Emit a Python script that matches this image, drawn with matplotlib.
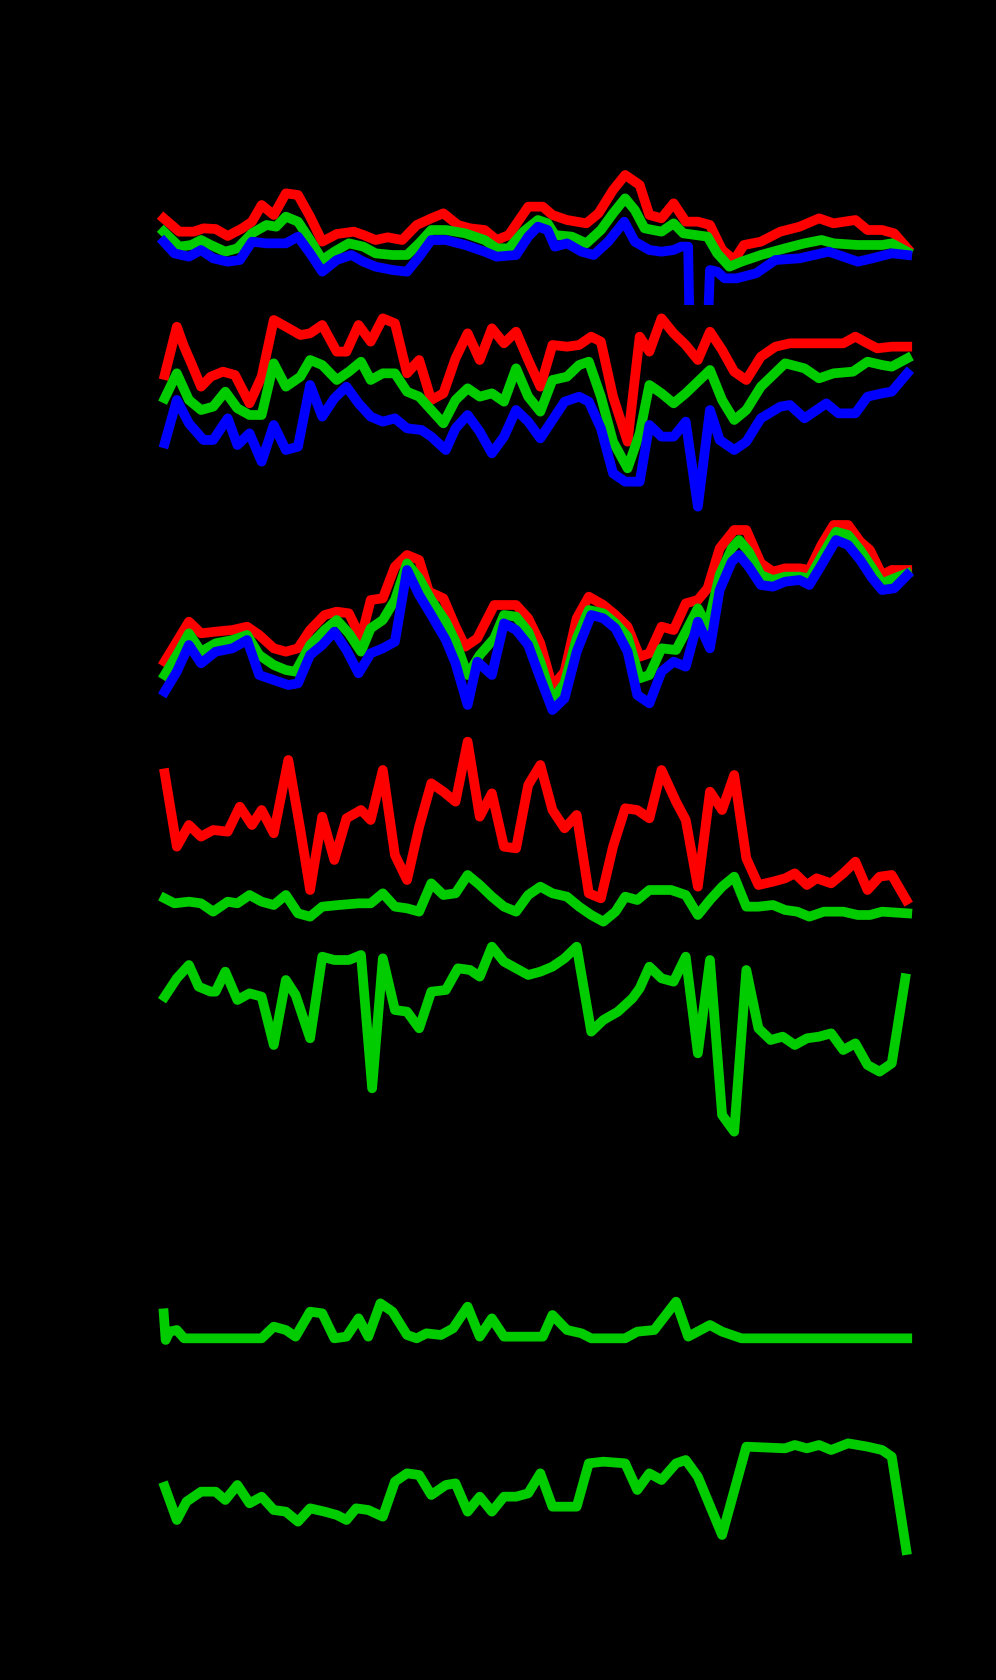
import matplotlib
matplotlib.use("Agg")
import matplotlib.pyplot as plt

# values, one small list per series
# x: sample position (0..1568), y: level (0 = top of its strip)

# strip 1
s1_red_x = [18, 50, 80, 100, 125, 150, 180, 200, 220, 245, 270, 295, 320, 345, 375, 410, 430, 455, 480, 510, 540, 570, 595, 625, 650, 680, 705, 730, 770, 800, 820, 850, 890, 915, 945, 970, 1000, 1020, 1045, 1070, 1095, 1120, 1145, 1170, 1195, 1215, 1250, 1290, 1330, 1370, 1400, 1445, 1470, 1500, 1525, 1552]
s1_red_y = [175, 215, 215, 205, 207, 228, 205, 185, 135, 165, 100, 105, 170, 245, 222, 215, 225, 240, 232, 240, 195, 175, 160, 195, 205, 210, 240, 225, 140, 140, 165, 180, 190, 160, 90, 45, 75, 165, 175, 130, 185, 185, 195, 270, 300, 255, 245, 215, 200, 175, 190, 180, 210, 210, 220, 265]
s1_green_x = [18, 50, 75, 95, 115, 145, 170, 200, 230, 250, 270, 295, 320, 345, 370, 400, 430, 455, 490, 520, 545, 570, 600, 640, 680, 705, 730, 760, 790, 810, 825, 860, 890, 920, 945, 970, 990, 1010, 1045, 1070, 1090, 1140, 1160, 1185, 1210, 1250, 1300, 1340, 1375, 1400, 1450, 1500, 1520, 1552]
s1_green_y = [215, 260, 255, 240, 255, 275, 265, 220, 195, 200, 170, 185, 240, 300, 275, 250, 260, 280, 285, 285, 250, 210, 210, 220, 240, 265, 265, 215, 180, 190, 225, 230, 250, 210, 160, 115, 150, 205, 215, 190, 220, 230, 280, 320, 305, 285, 265, 250, 240, 250, 255, 255, 250, 275]
s1_blue_x = [18, 40, 70, 95, 120, 150, 175, 200, 230, 270, 295, 320, 345, 375, 405, 430, 455, 490, 520, 545, 570, 600, 640, 680, 705, 745, 770, 790, 810, 825, 850, 880, 905, 935, 968, 990, 1020, 1045, 1070, 1085, 1100, 1103, 1140, 1145, 1160, 1175, 1200, 1240, 1280, 1330, 1360, 1390, 1420, 1450, 1480, 1520, 1552]
s1_blue_y = [245, 280, 290, 270, 295, 305, 300, 245, 250, 250, 230, 280, 335, 300, 285, 305, 320, 330, 335, 290, 240, 240, 255, 275, 290, 285, 230, 200, 210, 260, 250, 275, 285, 245, 185, 245, 270, 275, 270, 260, 260, 520, 520, 330, 335, 355, 355, 340, 300, 295, 285, 275, 290, 305, 295, 280, 285]

# strip 2
s2_red_x = [20, 45, 60, 75, 95, 115, 140, 165, 195, 220, 245, 270, 300, 320, 345, 375, 395, 420, 445, 470, 495, 520, 545, 570, 595, 620, 645, 670, 695, 720, 745, 770, 795, 820, 850, 875, 900, 920, 945, 975, 1000, 1020, 1045, 1070, 1095, 1120, 1145, 1170, 1195, 1220, 1250, 1280, 1310, 1340, 1380, 1420, 1445, 1470, 1490, 1520, 1552]
s2_red_y = [195, 50, 110, 160, 230, 200, 185, 195, 280, 200, 30, 50, 75, 70, 45, 125, 125, 45, 95, 25, 40, 190, 150, 270, 250, 145, 70, 150, 55, 100, 65, 150, 230, 105, 110, 105, 80, 95, 260, 395, 80, 125, 25, 70, 105, 150, 65, 120, 185, 210, 140, 110, 100, 100, 100, 100, 80, 100, 115, 110, 110]
s2_green_x = [20, 45, 70, 95, 120, 145, 170, 195, 220, 245, 270, 300, 320, 345, 375, 400, 425, 445, 470, 495, 520, 545, 570, 595, 620, 645, 670, 695, 720, 745, 770, 795, 820, 850, 875, 895, 920, 945, 975, 1000, 1020, 1045, 1070, 1095, 1145, 1170, 1195, 1220, 1250, 1300, 1340, 1370, 1400, 1440, 1470, 1500, 1520, 1552]
s2_green_y = [265, 190, 270, 300, 290, 245, 295, 315, 315, 160, 230, 200, 150, 165, 210, 185, 155, 210, 190, 190, 245, 260, 300, 340, 270, 235, 260, 250, 275, 175, 260, 305, 210, 200, 165, 155, 260, 395, 475, 370, 225, 250, 280, 250, 180, 270, 330, 300, 230, 160, 175, 205, 190, 185, 155, 165, 170, 145]
s2_blue_x = [20, 45, 70, 100, 120, 150, 170, 195, 220, 245, 270, 295, 320, 345, 370, 395, 420, 445, 470, 495, 520, 550, 570, 600, 620, 645, 670, 695, 720, 745, 770, 795, 820, 845, 875, 895, 920, 945, 970, 1000, 1020, 1045, 1070, 1095, 1120, 1145, 1165, 1195, 1220, 1250, 1290, 1310, 1340, 1385, 1410, 1445, 1470, 1500, 1520, 1552]
s2_blue_y = [400, 270, 340, 390, 390, 325, 405, 370, 455, 345, 420, 410, 225, 320, 265, 230, 280, 320, 335, 325, 355, 360, 380, 420, 355, 315, 365, 430, 380, 300, 335, 385, 330, 275, 260, 275, 355, 490, 515, 515, 345, 380, 380, 335, 590, 300, 390, 420, 395, 325, 290, 285, 325, 280, 310, 310, 260, 250, 245, 190]

# strip 3
s3_red_x = [20, 45, 70, 95, 125, 160, 190, 215, 245, 270, 295, 320, 350, 375, 400, 425, 445, 470, 495, 520, 545, 565, 595, 620, 640, 665, 700, 745, 770, 795, 820, 845, 870, 895, 925, 950, 975, 1000, 1020, 1045, 1070, 1095, 1120, 1140, 1165, 1195, 1220, 1250, 1275, 1300, 1330, 1350, 1375, 1400, 1430, 1455, 1475, 1500, 1520, 1552]
s3_red_y = [440, 380, 320, 355, 350, 345, 335, 360, 400, 410, 400, 345, 300, 290, 295, 370, 255, 250, 155, 120, 135, 230, 250, 335, 395, 370, 270, 270, 310, 385, 515, 470, 310, 245, 270, 300, 335, 425, 415, 335, 345, 265, 255, 220, 100, 45, 45, 145, 170, 160, 160, 165, 90, 30, 30, 80, 105, 180, 165, 165]
s3_green_x = [20, 45, 70, 95, 125, 160, 190, 215, 245, 270, 290, 320, 350, 375, 400, 425, 445, 470, 495, 520, 545, 570, 600, 620, 645, 670, 700, 720, 745, 770, 795, 820, 845, 870, 895, 925, 950, 975, 1000, 1020, 1045, 1075, 1095, 1120, 1140, 1165, 1190, 1205, 1225, 1250, 1275, 1300, 1330, 1350, 1375, 1405, 1430, 1455, 1480, 1500, 1525, 1552]
s3_green_y = [480, 420, 355, 410, 385, 375, 360, 420, 450, 465, 470, 390, 345, 315, 355, 410, 340, 315, 255, 145, 190, 255, 320, 380, 480, 420, 370, 300, 305, 350, 440, 555, 505, 370, 285, 295, 325, 365, 490, 480, 400, 405, 350, 280, 335, 180, 100, 75, 110, 180, 195, 185, 185, 190, 125, 50, 60, 105, 160, 205, 190, 175]
s3_blue_x = [20, 45, 70, 95, 125, 160, 190, 215, 245, 275, 295, 320, 345, 370, 395, 420, 445, 470, 495, 520, 545, 570, 600, 620, 645, 665, 695, 720, 745, 770, 795, 820, 845, 870, 900, 925, 950, 975, 995, 1020, 1045, 1070, 1095, 1120, 1145, 1165, 1190, 1205, 1225, 1250, 1275, 1300, 1330, 1350, 1375, 1405, 1430, 1455, 1480, 1500, 1525, 1552]
s3_blue_y = [530, 470, 390, 445, 410, 400, 375, 480, 495, 510, 505, 420, 390, 350, 405, 475, 415, 400, 380, 165, 240, 300, 375, 445, 570, 440, 480, 325, 345, 390, 490, 585, 550, 410, 300, 310, 340, 410, 540, 565, 470, 440, 455, 320, 400, 225, 140, 120, 155, 210, 215, 200, 195, 210, 150, 75, 90, 135, 190, 225, 220, 180]

# strip 4
s4_red_x = [20, 45, 70, 95, 120, 150, 175, 200, 220, 245, 275, 300, 320, 345, 370, 395, 425, 445, 470, 495, 520, 545, 570, 595, 620, 645, 670, 695, 720, 745, 770, 795, 820, 845, 870, 895, 920, 945, 970, 995, 1020, 1045, 1075, 1095, 1120, 1145, 1170, 1195, 1220, 1245, 1275, 1300, 1320, 1345, 1365, 1395, 1420, 1445, 1470, 1495, 1520, 1550]
s4_red_y = [130, 350, 285, 320, 300, 305, 230, 285, 240, 310, 90, 300, 480, 260, 390, 265, 240, 270, 120, 375, 450, 290, 160, 185, 215, 35, 260, 190, 350, 355, 165, 105, 240, 295, 255, 490, 505, 350, 235, 240, 265, 120, 215, 270, 470, 185, 240, 135, 385, 465, 455, 445, 430, 465, 445, 460, 430, 395, 480, 440, 435, 510]
s4_green_x = [20, 40, 70, 95, 120, 150, 170, 195, 220, 245, 270, 295, 320, 345, 380, 420, 445, 470, 495, 520, 545, 570, 595, 620, 645, 670, 695, 720, 745, 770, 795, 820, 850, 875, 900, 925, 950, 970, 995, 1020, 1065, 1095, 1120, 1145, 1170, 1195, 1220, 1245, 1275, 1300, 1325, 1350, 1380, 1420, 1450, 1475, 1500, 1552]
s4_green_y = [505, 520, 515, 520, 545, 515, 520, 495, 515, 525, 495, 550, 560, 530, 525, 520, 520, 490, 530, 535, 545, 460, 495, 490, 435, 465, 500, 530, 545, 495, 470, 490, 500, 530, 555, 575, 545, 500, 510, 480, 480, 495, 555, 510, 470, 440, 530, 530, 525, 540, 545, 560, 545, 545, 555, 555, 545, 550]

# strip 5
s5_green_x = [20, 45, 70, 90, 115, 125, 145, 170, 195, 220, 245, 270, 290, 320, 345, 370, 400, 425, 448, 470, 495, 520, 545, 570, 600, 625, 650, 670, 695, 720, 745, 770, 795, 820, 845, 870, 900, 925, 955, 985, 1000, 1020, 1045, 1070, 1095, 1120, 1145, 1170, 1195, 1220, 1245, 1270, 1295, 1320, 1345, 1370, 1395, 1420, 1445, 1470, 1495, 1520, 1548]
s5_green_y = [185, 130, 90, 155, 170, 170, 110, 195, 175, 185, 330, 135, 180, 310, 65, 75, 75, 60, 460, 70, 225, 230, 280, 170, 165, 100, 105, 125, 35, 80, 100, 120, 110, 95, 70, 35, 290, 255, 230, 190, 160, 95, 130, 140, 65, 355, 75, 540, 590, 105, 280, 315, 305, 330, 310, 305, 295, 345, 325, 390, 410, 385, 130]

# strip 6
s6_green_x = [18, 22, 30, 45, 60, 75, 220, 245, 270, 290, 320, 345, 370, 395, 420, 440, 465, 490, 520, 540, 560, 590, 615, 645, 670, 695, 720, 800, 820, 850, 880, 900, 970, 995, 1030, 1075, 1100, 1145, 1170, 1210, 1552]
s6_green_y = [85, 165, 140, 135, 160, 160, 160, 125, 135, 155, 80, 85, 160, 155, 100, 155, 55, 80, 150, 160, 145, 150, 130, 65, 155, 100, 155, 155, 90, 135, 145, 160, 160, 140, 135, 50, 155, 120, 140, 160, 160]

# strip 7
s7_green_x = [20, 45, 65, 95, 125, 145, 170, 195, 220, 245, 270, 295, 320, 350, 375, 395, 415, 440, 470, 495, 520, 545, 570, 600, 620, 645, 670, 695, 720, 745, 770, 795, 820, 870, 895, 925, 970, 995, 1020, 1045, 1075, 1095, 1120, 1170, 1220, 1300, 1320, 1345, 1370, 1395, 1430, 1470, 1500, 1520, 1550]
s7_green_y = [200, 300, 245, 215, 215, 240, 195, 250, 230, 270, 275, 305, 265, 275, 285, 300, 265, 270, 290, 185, 160, 165, 225, 195, 190, 275, 230, 275, 230, 230, 220, 160, 260, 260, 130, 125, 130, 210, 160, 180, 130, 120, 170, 345, 80, 85, 75, 85, 75, 90, 70, 80, 90, 110, 390]

RED = '#ff0000'
GREEN = '#00cc00'
BLUE = '#0000ff'

# strip placement in pixels: top, height
strips = [
    (160, 145, [(s1_red_x, s1_red_y, RED), (s1_green_x, s1_green_y, GREEN), (s1_blue_x, s1_blue_y, BLUE)]),
    (310, 205, [(s2_red_x, s2_red_y, RED), (s2_green_x, s2_green_y, GREEN), (s2_blue_x, s2_blue_y, BLUE)]),
    (515, 200, [(s3_red_x, s3_red_y, RED), (s3_green_x, s3_green_y, GREEN), (s3_blue_x, s3_blue_y, BLUE)]),
    (730, 200, [(s4_red_x, s4_red_y, RED), (s4_green_x, s4_green_y, GREEN)]),
    (935, 205, [(s5_green_x, s5_green_y, GREEN)]),
    (1285, 70, [(s6_green_x, s6_green_y, GREEN)]),
    (1420, 140, [(s7_green_x, s7_green_y, GREEN)]),
]

W, H = 996, 1680
fig = plt.figure(figsize=(W / 100, H / 100), dpi=100, facecolor='black')

for top, hgt, series in strips:
    ax = fig.add_axes([155 / W, 1 - (top + hgt) / H, 760 / W, hgt / H])
    ax.set_facecolor('black')
    for xs, ys, col in series:
        ax.plot(xs, ys, color=col, lw=7, solid_joinstyle='round')
    ax.set_xlim(0, 1568)
    ax.set_ylim(3 * hgt, 0)
    ax.axis('off')

fig.savefig('out.png', dpi=100, facecolor='black')
